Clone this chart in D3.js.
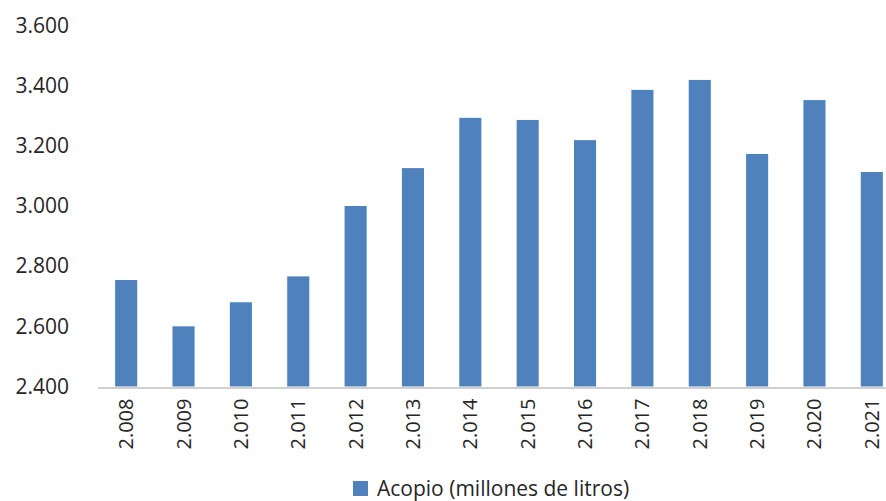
<!DOCTYPE html>
<html>
<head>
<meta charset="utf-8">
<script src="https://cdn.jsdelivr.net/npm/d3@7"></script>
<style>
  body { margin: 0; background: #fff; }
  svg { display: block; font-family: "Open Sans", sans-serif; }
</style>
</head>
<body>
<svg id="chart" width="886" height="501"></svg>
<script>
const years = ["2.008", "2.009", "2.010", "2.011", "2.012", "2.013", "2.014",
  "2.015", "2.016", "2.017", "2.018", "2.019", "2.020", "2.021"]
const acopio = [2754, 2600, 2680, 2766, 3000, 3126, 3293,
  3286, 3219, 3386, 3419, 3173, 3352, 3113]
const yTicks = [2400, 2600, 2800, 3000, 3200, 3400, 3600]
const seriesName = "Acopio (millones de litros)"

const width = 886
const height = 501
const margin = { top: 25.5, right: -14.5, bottom: 114.5, left: 97.5 }

const esFormat = d3.formatLocale({
  decimal: ",", thousands: ".", grouping: [3], currency: ["", ""]
}).format(",")

const svg = d3.select("#chart")

const x = d3.scaleBand()
  .domain(years)
  .range([margin.left, width - margin.right])
  .paddingInner(0.615)
  .paddingOuter(0.3075)

const y = d3.scaleLinear()
  .domain([2400, 3600])
  .range([height - margin.bottom, margin.top])

// bars
svg.append("g")
  .selectAll("rect")
  .data(years.map((d, i) => ({ year: d, value: acopio[i] })))
  .join("rect")
    .attr("x", d => x(d.year))
    .attr("y", d => y(d.value))
    .attr("width", x.bandwidth())
    .attr("height", d => y(2400) - y(d.value))
    .attr("fill", "#4f81bd")

// y axis labels only
svg.append("g")
  .attr("transform", `translate(69,0)`)
  .call(d3.axisLeft(y).tickValues(yTicks).tickFormat(esFormat).tickSize(0).tickPadding(0))
  .call(g => g.select(".domain").remove())
  .call(g => g.selectAll("text")
    .attr("font-family", "Open Sans, sans-serif")
    .attr("font-size", 21)
    .attr("fill", "#262626"))

// x axis
svg.append("g")
  .attr("transform", `translate(0,${y(2400) + 1})`)
  .call(d3.axisBottom(x).tickSize(0).tickPadding(0))
  .call(g => g.select(".domain")
    .attr("stroke", "#d0d0d0")
    .attr("stroke-width", 2))
  .call(g => g.selectAll("text")
    .attr("font-family", "Open Sans, sans-serif")
    .attr("font-size", 20)
    .attr("fill", "#262626")
    .attr("text-anchor", "end")
    .attr("transform", "rotate(-90)")
    .attr("x", -11)
    .attr("y", 0)
    .attr("dy", "0.35em"))

// legend
const legend = svg.append("g").attr("transform", "translate(353,481)")
legend.append("rect")
  .attr("width", 15)
  .attr("height", 15)
  .attr("fill", "#4f81bd")
legend.append("text")
  .attr("x", 24)
  .attr("y", 15)
  .attr("font-size", 21)
  .attr("fill", "#262626")
  .text(seriesName)
</script>
</body>
</html>
